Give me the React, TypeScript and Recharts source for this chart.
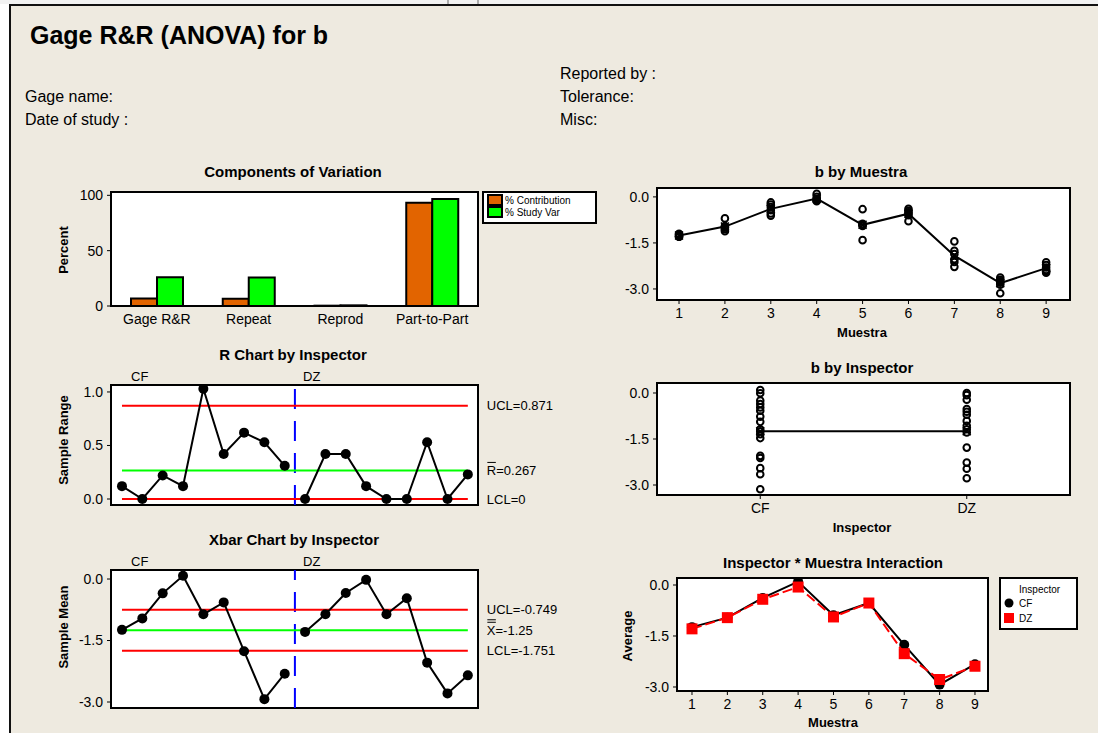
import React from "react";
import {
  BarChart,
  Bar,
  ScatterChart,
  Scatter,
  XAxis,
  YAxis,
  ReferenceLine,
} from "recharts";

const FONT = '"Liberation Sans", Arial, Helvetica, sans-serif';
const BG = "#EEEAE0";
const ORANGE = "#E26400";
const GREEN = "#00FF00";
const RED = "#FF0000";
const BLUE = "#0000FF";

// ---- Components of Variation ----
const components = ["Gage R&R", "Repeat", "Reprod", "Part-to-Part"];
const pctContribution = [6.8, 6.6, 0.3, 93.3];
const pctStudyVar = [26.0, 25.7, 0.6, 96.6];
const percentTicks = [0, 50, 100];

// ---- b by Muestra (each row = measurements of one sample) ----
const muestraTicks = [1, 2, 3, 4, 5, 6, 7, 8, 9];
const bByMuestra = [
  [-1.2, -1.22, -1.25, -1.28, -1.3, -1.3],
  [-0.7, -0.95, -0.98, -1.0, -1.05, -1.12],
  [-0.18, -0.25, -0.33, -0.43, -0.54, -0.61],
  [0.1, 0.0, -0.06, -0.1, -0.12, -0.14],
  [-0.4, -0.88, -0.9, -0.92, -0.95, -1.41],
  [-0.39, -0.45, -0.5, -0.55, -0.6, -0.79],
  [-1.45, -1.76, -1.86, -2.03, -2.12, -2.28],
  [-2.63, -2.7, -2.75, -2.8, -2.86, -3.14],
  [-2.13, -2.22, -2.3, -2.38, -2.42, -2.47],
];
const bTicks = [-3, -1.5, 0];

// ---- R chart by Inspector ----
const inspectors = ["CF", "DZ"];
const rangeCF = [0.12, 0.0, 0.22, 0.12, 1.03, 0.42, 0.62, 0.53, 0.31];
const rangeDZ = [0.0, 0.42, 0.42, 0.12, 0.0, 0.0, 0.53, 0.0, 0.23];
const R_UCL = 0.871;
const R_BAR = 0.267;
const R_LCL = 0;
const rTicks = [0, 0.5, 1.0];

// ---- b by Inspector ----
const bCF = [0.1, -0.01, -0.25, -0.36, -0.47, -0.58, -0.77, -0.94, -1.18, -1.25, -1.34, -1.47, -2.05, -2.12, -2.45, -2.65, -3.14];
const bDZ = [0.0, -0.07, -0.22, -0.52, -0.61, -0.71, -0.91, -1.07, -1.18, -1.29, -1.78, -2.27, -2.47, -2.78];
const inspectorMeans = [-1.25, -1.25];

// ---- Xbar chart by Inspector ----
const meanCF = [-1.24, -0.96, -0.35, 0.08, -0.86, -0.57, -1.76, -2.93, -2.31];
const meanDZ = [-1.29, -0.86, -0.34, -0.02, -0.86, -0.47, -2.04, -2.79, -2.35];
const X_UCL = -0.749;
const X_BAR = -1.25;
const X_LCL = -1.751;

// ---- Inspector * Muestra interaction ----
const interCF = [-1.24, -0.96, -0.38, 0.1, -0.89, -0.53, -1.76, -2.93, -2.33];
const interDZ = [-1.29, -0.96, -0.42, -0.06, -0.94, -0.53, -2.02, -2.78, -2.39];

type Box = { x0: number; y0: number; x1: number; y1: number };
const YW = 50;
const PAD = 6;

function place(b: Box, xh: number, right = PAD) {
  return {
    style: { position: "absolute" as const, left: b.x0 - YW - PAD, top: b.y0 - PAD },
    width: b.x1 - b.x0 + YW + PAD + right,
    height: b.y1 - b.y0 + xh + 2 * PAD,
    margin: { top: PAD, right, bottom: PAD, left: PAD },
  };
}

const B1: Box = { x0: 111, y0: 192, x1: 478, y1: 306 };
const B2: Box = { x0: 657, y0: 188, x1: 1070, y1: 300 };
const B3: Box = { x0: 111, y0: 385, x1: 478, y1: 505 };
const B4: Box = { x0: 657, y0: 383, x1: 1070, y1: 495 };
const B5: Box = { x0: 111, y0: 570, x1: 478, y1: 708 };
const B6: Box = { x0: 677, y0: 578, x1: 988, y1: 691 };

const tickStyle = { fill: "#000", fontSize: 14, fontFamily: FONT };
const fmt1 = (v: number) => v.toFixed(1);

const OpenCircle = (p: any) => (
  <circle cx={p.cx} cy={p.cy} r={3.3} fill="none" stroke="#000" strokeWidth={2} />
);
const FilledDot = (p: any) => <circle cx={p.cx} cy={p.cy} r={5} fill="#000" />;
const RedSquare = (p: any) => (
  <rect x={p.cx - 5.5} y={p.cy - 5.5} width={11} height={11} fill={RED} />
);
const MeanMark = (p: any) => (
  <path
    d={`M${p.cx - 4},${p.cy - 4}L${p.cx + 4},${p.cy + 4}M${p.cx - 4},${p.cy + 4}L${p.cx + 4},${p.cy - 4}`}
    stroke="#000"
    strokeWidth={1.5}
  />
);

function limitLabel(text: string, bars: number) {
  return (p: any) => {
    const vb = p.viewBox || { x: 0, y: 0, width: 0, height: 0 };
    const x = vb.x + vb.width + 19;
    const y = vb.y + vb.height / 2;
    return (
      <g>
        <text x={x} y={y} dominantBaseline="central" fontSize={13} fontFamily={FONT} fill="#000">
          {text}
        </text>
        {bars > 0 && <line x1={x + 0.5} x2={x + 9} y1={y - 8} y2={y - 8} stroke="#000" strokeWidth={1} />}
        {bars > 1 && <line x1={x + 0.5} x2={x + 9} y1={y - 10.5} y2={y - 10.5} stroke="#000" strokeWidth={1} />}
      </g>
    );
  };
}

function limitLine(y: number, first: number, last: number, color: string, text: string, bars = 0) {
  return (
    <ReferenceLine
      segment={[{ x: first, y }, { x: last, y }]}
      stroke={color}
      strokeWidth={2}
      label={limitLabel(text, bars)}
    />
  );
}

function Txt(props: { x: number; y: number; size: number; bold?: boolean; anchor?: string; rotate?: boolean; children: string }) {
  const { x, y, size, bold, anchor = "start", rotate, children } = props;
  return (
    <text
      x={x}
      y={y}
      fontSize={size}
      fontWeight={bold ? "bold" : "normal"}
      fontFamily={FONT}
      textAnchor={anchor as any}
      dominantBaseline="central"
      fill="#000"
      transform={rotate ? `rotate(-90 ${x} ${y})` : undefined}
    >
      {children}
    </text>
  );
}

const PlotBox = ({ b }: { b: Box }) => (
  <rect x={b.x0} y={b.y0} width={b.x1 - b.x0} height={b.y1 - b.y0} fill="#fff" stroke="#000" strokeWidth={2} />
);

export default function App() {
  const compData = components.map((name, i) => ({
    name,
    contribution: pctContribution[i],
    studyVar: pctStudyVar[i],
  }));
  const muestraPts = bByMuestra.flatMap((row, i) => row.map((y) => ({ x: muestraTicks[i], y })));
  const muestraMeans = bByMuestra.map((row, i) => ({
    x: muestraTicks[i],
    y: row.reduce((s, v) => s + v, 0) / row.length,
  }));
  const rCF = rangeCF.map((y, i) => ({ x: i + 1, y }));
  const rDZ = rangeDZ.map((y, i) => ({ x: i + 1 + rangeCF.length, y }));
  const xCF = meanCF.map((y, i) => ({ x: i + 1, y }));
  const xDZ = meanDZ.map((y, i) => ({ x: i + 1 + meanCF.length, y }));
  const nSub = rangeCF.length + rangeDZ.length;
  const inspPts = [
    ...bCF.map((y) => ({ x: 1, y })),
    ...bDZ.map((y) => ({ x: 2, y })),
  ];
  const inspMeanPts = inspectorMeans.map((y, i) => ({ x: i + 1, y }));
  const iCF = interCF.map((y, i) => ({ x: muestraTicks[i], y }));
  const iDZ = interDZ.map((y, i) => ({ x: muestraTicks[i], y }));

  const yAxisCommon = {
    type: "number" as const,
    dataKey: "y",
    width: YW,
    axisLine: false,
    tickLine: { stroke: "#000", strokeWidth: 1 },
    tickSize: 4,
    tickMargin: 4,
    tick: tickStyle,
    allowDataOverflow: true,
  };
  const xAxisNum = {
    type: "number" as const,
    dataKey: "x",
    axisLine: false,
    tickLine: { stroke: "#000", strokeWidth: 1 },
    tickSize: 4,
    tickMargin: 4,
    tick: tickStyle,
    allowDataOverflow: true,
    interval: 0 as const,
  };

  return (
    <div
      style={{
        position: "absolute",
        left: 0,
        top: 0,
        width: 1098,
        height: 733,
        background: "#fff",
        overflow: "hidden",
        fontFamily: FONT,
      }}
    >
      <svg width={1098} height={733} style={{ position: "absolute", left: 0, top: 0 }}>
        <rect x={0} y={0} width={1098} height={4} fill="#F2F2F2" />
        <line x1={448} y1={0} x2={448} y2={4} stroke="#666" />
        <line x1={478} y1={0} x2={478} y2={4} stroke="#666" />
        <rect x={9} y={4} width={1089} height={729} fill={BG} />
        <line x1={10} y1={4} x2={10} y2={733} stroke="#111" strokeWidth={2} />
        <line x1={9} y1={5} x2={1098} y2={5} stroke="#111" strokeWidth={2} />

        <Txt x={30} y={35} size={25} bold>Gage R&amp;R (ANOVA) for b</Txt>
        <Txt x={560} y={73} size={16}>Reported by :</Txt>
        <Txt x={25} y={96} size={16}>Gage name:</Txt>
        <Txt x={560} y={96} size={16}>Tolerance:</Txt>
        <Txt x={25} y={119} size={16}>Date of study :</Txt>
        <Txt x={560} y={119} size={16}>Misc:</Txt>

        <Txt x={293} y={171} size={15} bold anchor="middle">Components of Variation</Txt>
        <Txt x={861} y={171} size={15} bold anchor="middle">b by Muestra</Txt>
        <Txt x={293} y={354} size={15} bold anchor="middle">R Chart by Inspector</Txt>
        <Txt x={862} y={367} size={15} bold anchor="middle">b by Inspector</Txt>
        <Txt x={294} y={539} size={15} bold anchor="middle">Xbar Chart by Inspector</Txt>
        <Txt x={833} y={562} size={15} bold anchor="middle">Inspector * Muestra Interaction</Txt>

        <Txt x={63} y={250} size={13} bold anchor="middle" rotate>Percent</Txt>
        <Txt x={63} y={440} size={13} bold anchor="middle" rotate>Sample Range</Txt>
        <Txt x={63} y={627} size={13} bold anchor="middle" rotate>Sample Mean</Txt>
        <Txt x={627} y={636} size={13} bold anchor="middle" rotate>Average</Txt>
        <Txt x={862} y={332} size={13} bold anchor="middle">Muestra</Txt>
        <Txt x={862} y={527} size={13} bold anchor="middle">Inspector</Txt>
        <Txt x={833} y={722} size={13} bold anchor="middle">Muestra</Txt>

        <Txt x={131} y={376} size={13}>{inspectors[0]}</Txt>
        <Txt x={303} y={376} size={13}>{inspectors[1]}</Txt>
        <Txt x={131} y={561} size={13}>{inspectors[0]}</Txt>
        <Txt x={303} y={561} size={13}>{inspectors[1]}</Txt>

        <PlotBox b={B1} />
        <PlotBox b={B2} />
        <PlotBox b={B3} />
        <PlotBox b={B4} />
        <PlotBox b={B5} />
        <PlotBox b={B6} />

        {/* legend: components of variation */}
        <rect x={483} y={192} width={113} height={31} fill="#fff" stroke="#000" strokeWidth={2} />
        <rect x={488} y={195} width={14} height={10} fill={ORANGE} stroke="#000" strokeWidth={2} />
        <rect x={488} y={207} width={14} height={10} fill={GREEN} stroke="#000" strokeWidth={2} />
        <Txt x={505} y={200} size={10}>% Contribution</Txt>
        <Txt x={505} y={212} size={10}>% Study Var</Txt>

        {/* legend: interaction */}
        <rect x={1000} y={578} width={77} height={51} fill="#fff" stroke="#000" strokeWidth={2} />
        <Txt x={1019} y={589} size={10}>Inspector</Txt>
        <circle cx={1009} cy={603} r={4.5} fill="#000" />
        <rect x={1004} y={613} width={10} height={10} fill={RED} />
        <Txt x={1019} y={603} size={10}>{inspectors[0]}</Txt>
        <Txt x={1019} y={618} size={10}>{inspectors[1]}</Txt>
      </svg>

      {/* Components of Variation */}
      <BarChart {...place(B1, 24)} data={compData} barGap={0} barSize={26}>
        <XAxis
          dataKey="name"
          height={24}
          axisLine={false}
          tickLine={false}
          tickSize={4}
          tickMargin={4}
          tick={tickStyle}
          interval={0}
        />
        <YAxis
          width={YW}
          domain={[0, 103]}
          ticks={percentTicks}
          axisLine={false}
          tickLine={{ stroke: "#000" }}
          tickSize={4}
          tickMargin={4}
          tick={tickStyle}
          allowDataOverflow
        />
        <Bar dataKey="contribution" fill={ORANGE} stroke="#000" strokeWidth={2} isAnimationActive={false} />
        <Bar dataKey="studyVar" fill={GREEN} stroke="#000" strokeWidth={2} isAnimationActive={false} />
      </BarChart>

      {/* b by Muestra */}
      <ScatterChart {...place(B2, 22)}>
        <XAxis {...xAxisNum} height={22} domain={[0.52, 9.52]} ticks={muestraTicks} />
        <YAxis {...yAxisCommon} domain={[-3.36, 0.29]} ticks={bTicks} tickFormatter={fmt1} />
        <Scatter data={muestraPts} shape={OpenCircle} isAnimationActive={false} />
        <Scatter
          data={muestraMeans}
          shape={MeanMark}
          line={{ stroke: "#000", strokeWidth: 2 }}
          isAnimationActive={false}
        />
      </ScatterChart>

      {/* R chart */}
      <ScatterChart {...place(B3, 0, 110)}>
        <XAxis {...xAxisNum} domain={[0.46, nSub + 0.5]} hide />
        <YAxis {...yAxisCommon} domain={[-0.056, 1.065]} ticks={rTicks} tickFormatter={fmt1} />
        <ReferenceLine x={rangeCF.length + 0.5} stroke={BLUE} strokeWidth={2} strokeDasharray="20 12" />
        {limitLine(R_UCL, 1, nSub, RED, `UCL=${R_UCL}`)}
        {limitLine(R_BAR, 1, nSub, GREEN, `R=${R_BAR}`, 1)}
        {limitLine(R_LCL, 1, nSub, RED, `LCL=${R_LCL}`)}
        <Scatter data={rCF} shape={FilledDot} line={{ stroke: "#000", strokeWidth: 2 }} isAnimationActive={false} />
        <Scatter data={rDZ} shape={FilledDot} line={{ stroke: "#000", strokeWidth: 2 }} isAnimationActive={false} />
      </ScatterChart>

      {/* b by Inspector */}
      <ScatterChart {...place(B4, 22)}>
        <XAxis
          {...xAxisNum}
          height={22}
          domain={[0.5, 2.5]}
          ticks={[1, 2]}
          tickFormatter={(v: number) => inspectors[v - 1]}
        />
        <YAxis {...yAxisCommon} domain={[-3.326, 0.326]} ticks={bTicks} tickFormatter={fmt1} />
        <Scatter data={inspPts} shape={OpenCircle} isAnimationActive={false} />
        <Scatter
          data={inspMeanPts}
          shape={MeanMark}
          line={{ stroke: "#000", strokeWidth: 2 }}
          isAnimationActive={false}
        />
      </ScatterChart>

      {/* Xbar chart */}
      <ScatterChart {...place(B5, 0, 110)}>
        <XAxis {...xAxisNum} domain={[0.46, nSub + 0.5]} hide />
        <YAxis {...yAxisCommon} domain={[-3.146, 0.22]} ticks={bTicks} tickFormatter={fmt1} />
        <ReferenceLine x={meanCF.length + 0.5} stroke={BLUE} strokeWidth={2} strokeDasharray="20 12" />
        {limitLine(X_UCL, 1, nSub, RED, `UCL=${X_UCL}`)}
        {limitLine(X_BAR, 1, nSub, GREEN, `X=${X_BAR}`, 2)}
        {limitLine(X_LCL, 1, nSub, RED, `LCL=${X_LCL}`)}
        <Scatter data={xCF} shape={FilledDot} line={{ stroke: "#000", strokeWidth: 2 }} isAnimationActive={false} />
        <Scatter data={xDZ} shape={FilledDot} line={{ stroke: "#000", strokeWidth: 2 }} isAnimationActive={false} />
      </ScatterChart>

      {/* Interaction */}
      <ScatterChart {...place(B6, 22)}>
        <XAxis {...xAxisNum} height={22} domain={[0.576, 9.368]} ticks={muestraTicks} />
        <YAxis {...yAxisCommon} domain={[-3.118, 0.206]} ticks={bTicks} tickFormatter={fmt1} />
        <Scatter data={iCF} shape={FilledDot} line={{ stroke: "#000", strokeWidth: 2 }} isAnimationActive={false} />
        <Scatter
          data={iDZ}
          shape={RedSquare}
          line={{ stroke: RED, strokeWidth: 2, strokeDasharray: "10 4" }}
          isAnimationActive={false}
        />
      </ScatterChart>
    </div>
  );
}
